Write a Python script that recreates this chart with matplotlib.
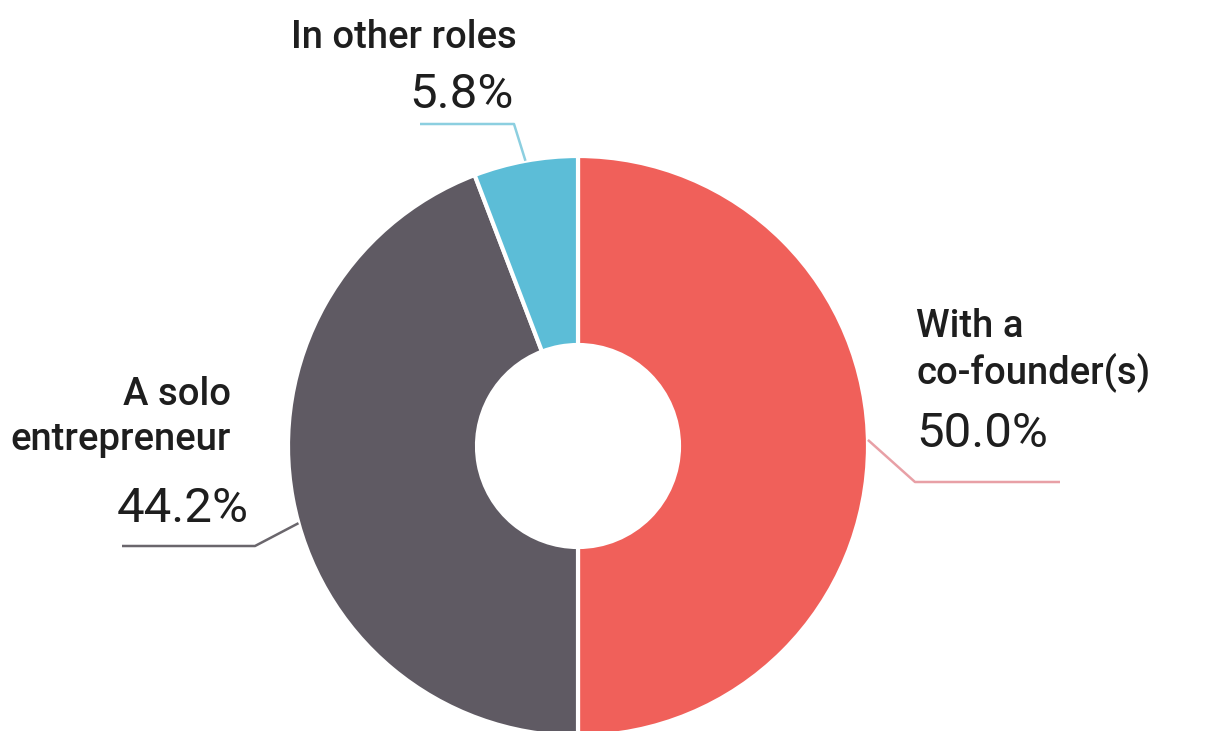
import numpy as np
import matplotlib.pyplot as plt

# data
labels = [["With a", "co-founder(s)"], ["A solo", "entrepreneur"], ["In other roles"]]
values = [50.0, 44.2, 5.8]
colors = ["#f0605a", "#5f5a63", "#5cbdd7"]
line_colors = ["#e8a0a6", "#6a666c", "#8ccfe0"]

W, H = 1214, 731
cx, cy = 578, 731 - 446
R, r_in = 290, 101

fig = plt.figure(figsize=(W / 100, H / 100), dpi=100)
ax = fig.add_axes([0, 0, 1, 1])

wedges, _ = ax.pie(values, colors=colors, startangle=90, counterclock=False,
                   radius=R, center=(cx, cy), frame=True,
                   wedgeprops=dict(width=R - r_in, edgecolor="white", linewidth=3))

ax.set_xlim(0, W)
ax.set_ylim(0, H)
ax.set_aspect("equal")
ax.axis("off")

# label layout: angle nudge, elbow, line end, text x, align, line baselines, pct x, pct baseline
layout = [
    (1.2, (915, 482), 1060, 916, "left", [337, 383], 916, 447),
    (5.0, (255, 546), 122, 231, "right", [405, 450], 249, 522),
    (0.0, (514, 124), 420, 517, "right", [48], 514, 108),
]

txt_color = "#1e1e1e"
for w, lab, v, lc, (nudge, elbow, xend, tx, ha, lys, px, py) in zip(
        wedges, labels, values, line_colors, layout):
    mid = np.deg2rad((w.theta1 + w.theta2) / 2 + nudge)
    ax0 = cx + R * np.cos(mid)
    ay0 = cy + R * np.sin(mid)
    ex, ey = elbow[0], H - elbow[1]
    ax.plot([ax0, ex, xend], [ay0, ey, ey], color=lc, lw=1.8,
            solid_capstyle="butt", zorder=1)
    for line, ly in zip(lab, lys):
        ax.text(tx, H - ly, line, ha=ha, va="baseline", fontsize=27.5,
                family="Roboto", fontweight="medium", color=txt_color)
    ax.text(px, H - py, f"{v:.1f}%", ha=ha, va="baseline", fontsize=35.5,
            family="Roboto", color=txt_color)

fig.savefig("out.png", dpi=100, facecolor="white")
